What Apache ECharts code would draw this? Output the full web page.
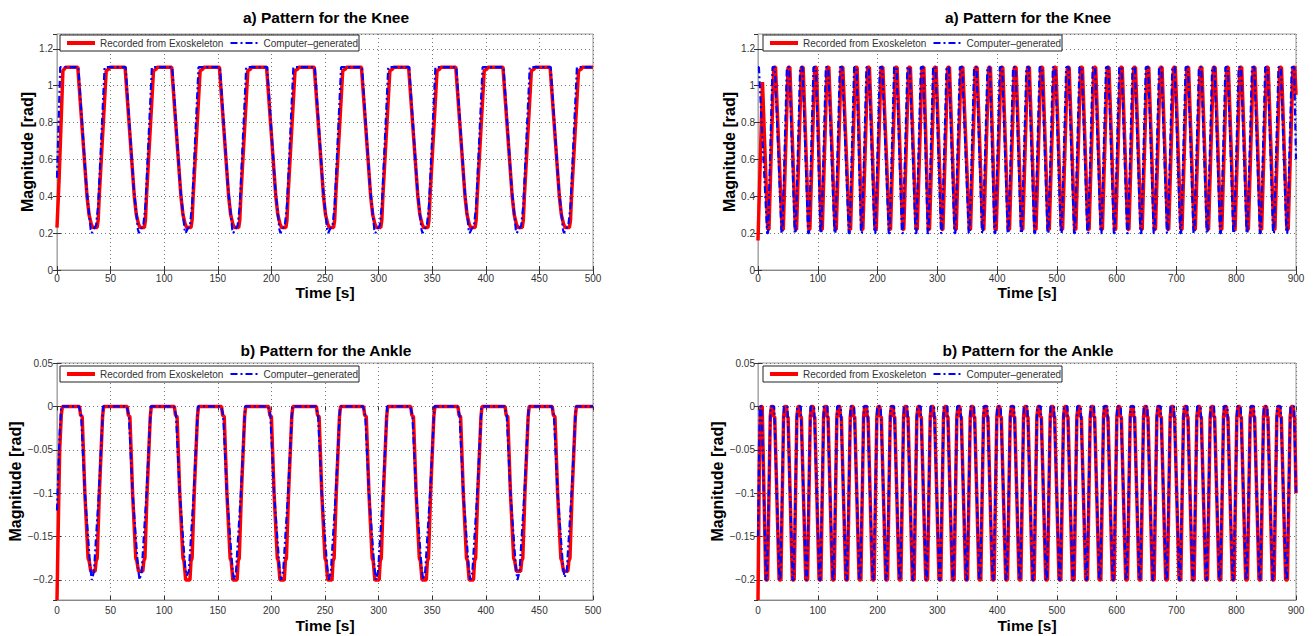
<!DOCTYPE html>
<html><head><meta charset="utf-8">
<script src="https://cdn.jsdelivr.net/npm/echarts@6/dist/echarts.min.js"></script>
<style>html,body{margin:0;padding:0;background:#fff}#c{width:1313px;height:636px}</style>
</head><body><div id="c"></div>
<script>
// ---------- text ----------
const seriesNames = ['Recorded from Exoskeleton', 'Computer\u2013generated'];
const panelTitles = ['a) Pattern for the Knee', 'a) Pattern for the Knee', 'b) Pattern for the Ankle', 'b) Pattern for the Ankle'];
const xAxisTitle = 'Time [s]';
const yAxisTitle = 'Magnitude [rad]';

// ---------- axes ----------
const leftTimeRange = [0, 500], leftTimeStep = 50;
const rightTimeRange = [0, 900], rightTimeStep = 100;
const kneeRange = [0, 1.28], kneeStep = 0.2;
const ankleRange = [-0.2231, 0.05], ankleStep = 0.05;

// ---------- left knee (0-500 s): trough times and per-cycle shape ----------
const kneeLeftTroughs = [35.4, 79.5, 123, 167.5, 211.5, 256, 300, 344, 388, 432, 476];
const kneeLeftRedHead = [[0, 0.23], [2, 0.5], [5.5, 1.08], [8, 1.1]];
const kneeLeftRedShape = [[-16, 1.1], [-7.4, 0.4], [-5.5, 0.3], [-3.5, 0.25], [-2, 0.23], [2, 0.23], [3, 0.27], [4, 0.4], [10.5, 1.08], [13, 1.09], [14, 1.1]];
const kneeLeftRedTail = [[500, 1.1]];
const kneeLeftBlueHead = [[0, 0.5], [3, 1.1]];
const kneeLeftBlueShape = [[-15.5, 1.1], [-8, 0.45], [-4, 0.22], [-3, 0.2], [-1.5, 0.22], [1, 0.24], [3, 0.35], [9, 1.1]];
const kneeLeftBlueTail = [[500, 1.1]];

// ---------- left ankle (0-500 s) ----------
const ankleLeftTroughs = [34, 78.5, 122.5, 166.5, 210.5, 255, 299, 343, 387, 431, 475];
const ankleLeftRedDepth = [-0.19, -0.19, -0.2, -0.2, -0.2, -0.2, -0.2, -0.2, -0.2, -0.19, -0.19];
const ankleLeftBlueDepth = [-0.2, -0.2, -0.195, -0.2, -0.2, -0.2, -0.2, -0.2, -0.2, -0.2, -0.197];
const ankleLeftRedHead = [[0, -0.223], [1, -0.15], [2.5, -0.05], [4, -0.01], [5, 0]];
const ankleLeftRedShape = [[-13, 0], [-12, -0.01], [-10.5, -0.012], [-8, -0.1], [-5, -0.175], [-4, -0.178], [-2.5, 'D'], [1.5, 'D'], [2.5, -0.178], [3.5, -0.175], [5.5, -0.1], [8.5, -0.012], [9.5, 0]];
const ankleLeftRedTail = [[500, 0]];
const ankleLeftBlueHead = [[0, -0.12], [2.5, -0.03], [4, 0]];
const ankleLeftBlueShape = [[-13.5, 0], [-11.5, -0.01], [-8, -0.1], [-3, -0.185], [-1.5, 'D'], [0.5, -0.19], [5, -0.1], [9, 0]];
const ankleLeftBlueTail = [[500, 0]];

// ---------- right knee (0-900 s) ----------
const kneeRightTroughs = [17.3, 41.3, 63.5, 85.8, 106.5, 129.9, 153.8, 174.4, 196.8, 220.7, 242.9, 265.4, 285.9, 308.3, 330.6, 354.5, 376.8, 397.5, 419.7, 441.9, 464.1, 486.3, 508.5, 530.7, 552.9, 575.1, 597.3, 619.5, 641.7, 663.9, 686.1, 708.3, 730.5, 752.7, 774.9, 797.1, 819.3, 841.5, 863.7, 885.9];
const kneeRightRedHead = [[0, 0.16], [7.5, 1.02], [8.5, 1.02]];
const kneeRightRedShape = [[-1, 0.22], [1, 0.22], [9, 1.1], [12, 1.1]];
const kneeRightRedTail = [[900, 0.95]];
const kneeRightBlueHead = [[0, 1.1], [1.5, 1.1]];
const kneeRightBlueShape = [[-2, 0.2], [-0.5, 0.2], [7, 1.1], [11, 1.1]];
const kneeRightBlueTail = [[900, 0.6]];

// ---------- right ankle (0-900 s) ----------
const ankleRightTroughs = [14.5, 36.8, 59.0, 81.4, 103.7, 125.9, 148.3, 170.6, 192.8, 215.2, 237.5, 259.7, 282.1, 304.3, 326.6, 349.0, 371.2, 393.5, 415.9, 438.2, 460.5, 482.8, 505.1, 527.4, 549.7, 572.0, 594.3, 616.6, 638.9, 661.2, 683.5, 705.8, 728.1, 750.4, 772.7, 795.0, 817.3, 839.6, 861.9, 884.2];
const ankleRightRedHead = [[0, -0.223], [2.5, -0.05], [4, -0.01], [5, 0], [7, 0]];
const ankleRightRedShape = [[-1.5, -0.2], [1.5, -0.2], [6, -0.012], [8, 0], [11, 0], [12, -0.012], [13.5, -0.012]];
const ankleRightRedTail = [[900, -0.1]];
const ankleRightBlueHead = [[0, -0.15], [3, 0], [6, 0]];
const ankleRightBlueShape = [[-1, -0.2], [0.5, -0.2], [6.5, 0], [12.5, 0]];
const ankleRightBlueTail = [[900, -0.1]];

// ---------- build point tables from the read values ----------
function build(head, anchors, shape, tail, depths) {
  const out = head.map(p => p.slice());
  anchors.forEach((T, i) => {
    shape.forEach(([dt, v]) => out.push([+(T + dt).toFixed(2), v === 'D' ? depths[i] : v]));
  });
  tail.forEach(p => out.push(p.slice()));
  return out;
}

const panelData = [
  [build(kneeLeftRedHead, kneeLeftTroughs, kneeLeftRedShape, kneeLeftRedTail),
   build(kneeLeftBlueHead, kneeLeftTroughs, kneeLeftBlueShape, kneeLeftBlueTail)],
  [build(kneeRightRedHead, kneeRightTroughs, kneeRightRedShape, kneeRightRedTail),
   build(kneeRightBlueHead, kneeRightTroughs, kneeRightBlueShape, kneeRightBlueTail)],
  [build(ankleLeftRedHead, ankleLeftTroughs, ankleLeftRedShape, ankleLeftRedTail, ankleLeftRedDepth),
   build(ankleLeftBlueHead, ankleLeftTroughs, ankleLeftBlueShape, ankleLeftBlueTail, ankleLeftBlueDepth)],
  [build(ankleRightRedHead, ankleRightTroughs, ankleRightRedShape, ankleRightRedTail),
   build(ankleRightBlueHead, ankleRightTroughs, ankleRightBlueShape, ankleRightBlueTail)]
];

// ---------- layout ----------
const FONT = 'Liberation Sans, Arial, sans-serif';
const gridBoxes = [
  {left: 57, top: 34, width: 536, height: 236},
  {left: 758, top: 34, width: 538, height: 236},
  {left: 57, top: 363, width: 536, height: 237},
  {left: 758, top: 363, width: 538, height: 237}
];
const titleCenters = [[326, 17], [1028, 17], [326, 350], [1028, 350]];
const xNameGaps = [14, 14, 17, 17];
const yNameGaps = [22, 21, 32, 32];
const xLabelMargins = [3, 3, 5, 5];
const yLabelMargins = [4, 3, 4, 3];
const legendPos = [[60, 35], [763, 35], [60, 366], [763, 366]];

const minus = s => String(s).replace('-', '\u2212');

const xAxes = [], yAxes = [];
gridBoxes.forEach((g, i) => {
  const right = i % 2 === 1;
  const r = right ? rightTimeRange : leftTimeRange;
  xAxes.push({
    type: 'value', gridIndex: i, min: r[0], max: r[1], interval: right ? rightTimeStep : leftTimeStep,
    name: xAxisTitle, nameLocation: 'middle', nameGap: xNameGaps[i],
    nameTextStyle: {fontFamily: FONT, fontWeight: 'bold', fontSize: 15.5, color: '#000'},
    axisLine: {show: true, onZero: false, lineStyle: {color: '#888', width: 1}},
    axisTick: {show: true, inside: true, length: 4, lineStyle: {color: '#333'}},
    axisLabel: {fontFamily: FONT, fontSize: 10, color: '#333', margin: xLabelMargins[i]},
    splitLine: {show: true, lineStyle: {type: [1, 3], color: '#777', width: 1}}
  });
  const knee = i < 2;
  const yr = knee ? kneeRange : ankleRange;
  const ax = {
    type: 'value', gridIndex: i, min: yr[0], max: yr[1],
    name: yAxisTitle, nameLocation: 'middle', nameGap: yNameGaps[i], nameRotate: 90,
    nameTextStyle: {fontFamily: FONT, fontWeight: 'bold', fontSize: 16, color: '#000'},
    axisLine: {show: true, onZero: false, lineStyle: {color: '#aaa', width: 1}},
    axisTick: {show: true, inside: true, length: 4, lineStyle: {color: '#333'}},
    axisLabel: {fontFamily: FONT, fontSize: 10, color: '#333', margin: yLabelMargins[i], formatter: v => minus(v)},
    splitLine: {show: true, lineStyle: {type: [1, 3], color: '#777', width: 1}}
  };
  if (knee) { ax.interval = kneeStep; ax.axisLabel.showMaxLabel = false; }
  else { ax.minInterval = ankleStep; ax.maxInterval = ankleStep; ax.splitNumber = 5; ax.axisLabel.showMinLabel = false; }
  yAxes.push(ax);
});
// mirrored tick marks on the top and right edges of each box
gridBoxes.forEach((g, i) => {
  xAxes.push(Object.assign({}, xAxes[i], {position: 'top', name: '', axisLine: {show: false}, axisLabel: {show: false}, splitLine: {show: false}}));
  yAxes.push(Object.assign({}, yAxes[i], {position: 'right', name: '', axisLine: {show: false}, axisLabel: {show: false}, splitLine: {show: false}}));
});

const legendItems = [
  {name: seriesNames[0], lineStyle: {width: 4, color: '#ff0000'}},
  {name: seriesNames[1], lineStyle: {width: 2.2, color: '#0000ff', type: [7, 3, 2, 3]}}
];

const option = {
  animation: false,
  backgroundColor: '#fff',
  grid: gridBoxes.map(g => Object.assign({show: true, borderColor: '#999', borderWidth: 1, backgroundColor: 'transparent'}, g)),
  xAxis: xAxes,
  yAxis: yAxes,
  legend: legendPos.map(p => ({
    left: p[0], top: p[1], orient: 'horizontal', data: legendItems,
    itemWidth: 28, itemHeight: 10, itemGap: 6, padding: [3, 1, 3, 5],
    borderColor: '#222', borderWidth: 1, backgroundColor: '#fff', borderRadius: 0,
    selectedMode: false, z: 20,
    itemStyle: {opacity: 0},
    textStyle: {fontFamily: FONT, fontSize: 10, color: '#333'}
  })),
  graphic: titleCenters.map((c, i) => ({
    type: 'text', x: c[0], y: c[1], z: 10,
    style: {text: panelTitles[i], textAlign: 'center', textVerticalAlign: 'middle',
            fontFamily: FONT, fontWeight: 'bold', fontSize: 15.5, fill: '#000'}
  })),
  series: []
};

panelData.forEach((pair, i) => {
  option.series.push({
    name: seriesNames[0], type: 'line', xAxisIndex: i, yAxisIndex: i, data: pair[0],
    symbol: 'none', showSymbol: false, clip: true,
    lineStyle: {color: '#ff0000', width: 3.5}, itemStyle: {color: '#ff0000'}
  });
  option.series.push({
    name: seriesNames[1], type: 'line', xAxisIndex: i, yAxisIndex: i, data: pair[1],
    symbol: 'none', showSymbol: false, clip: true,
    lineStyle: {color: '#0000ff', width: 2.2, type: [7, 3, 2, 3]}, itemStyle: {color: '#0000ff'}
  });
});

const chart = echarts.init(document.getElementById('c'), null, {renderer: 'svg'});
chart.setOption(option);
</script>
</body></html>
